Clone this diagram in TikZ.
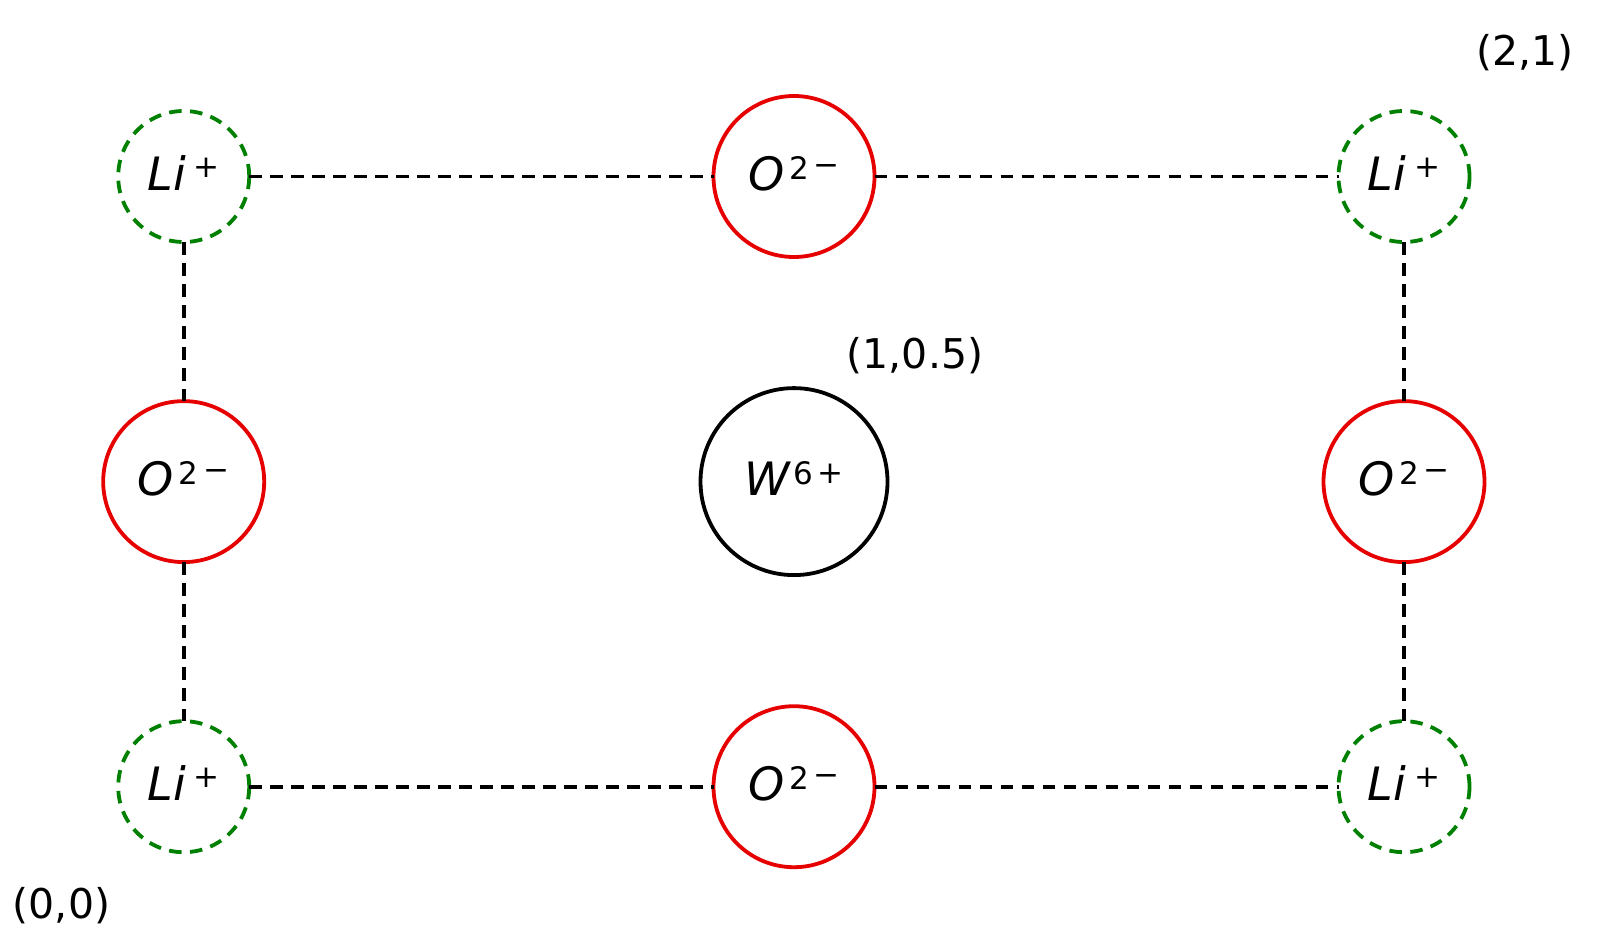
\documentclass[tikz,border=0pt]{standalone}
\usepackage{fontspec}
\setmainfont{DejaVu Sans}
\newcommand{\basefont}{\fontsize{46}{46}\selectfont\itshape}
\newcommand{\supfont}{\fontsize{31}{31}\selectfont\upshape}
\newcommand{\lblfont}{\fontsize{41}{41}\selectfont\upshape}
\newcommand{\LiIon}{{\basefont Li}\kern8pt\raisebox{13pt}{\supfont +}}
\newcommand{\OIon}{{\basefont O}\kern5pt\raisebox{11pt}{\supfont 2}\kern5pt\raisebox{15pt}{\supfont −}}
\newcommand{\WIon}{{\basefont W}\kern3pt\raisebox{11pt}{\supfont 6}\kern4pt\raisebox{12pt}{\supfont +}}
\tikzset{
  ring/.style={circle, draw, line width=3.8pt, inner sep=0pt, outer sep=0pt},
  lisite/.style={ring, draw={rgb,255:red,0;green,128;blue,0}, dash pattern=on 12.5pt off 8.5pt, minimum size=131pt},
  osite/.style={ring, draw={rgb,255:red,230;green,0;blue,0}, minimum size=161pt},
  wsite/.style={ring, draw=black, minimum size=187pt},
  bond/.style={draw=black, line width=3.8pt, dash pattern=on 12.5pt off 8.5pt},
  iontext/.style={anchor=base, inner sep=0pt},
  coordlbl/.style={anchor=center, inner sep=0pt, font=\lblfont}
}
\begin{document}
\begin{tikzpicture}[x=1pt,y=1pt]
\useasboundingbox[fill=white] (0,0) rectangle (1600,-940);
% sites
\node[lisite] (litl) at (183.7,-176.5) {};
\node[osite]  (ot)   at (794,-176.5) {};
\node[lisite] (litr) at (1404,-176.5) {};
\node[osite]  (ol)   at (183.7,-481.6) {};
\node[wsite]  (w)    at (794,-481.6) {};
\node[osite]  (or)   at (1404,-481.6) {};
\node[lisite] (libl) at (183.7,-786.7) {};
\node[osite]  (ob)   at (794,-786.7) {};
\node[lisite] (libr) at (1404,-786.7) {};
% bonds
\draw[bond] (litl) -- (ot);
\draw[bond] (ot) -- (litr);
\draw[bond] (libl) -- (ob);
\draw[bond] (ob) -- (libr);
\draw[bond] (litl) -- (ol);
\draw[bond] (ol) -- (libl);
\draw[bond] (litr) -- (or);
\draw[bond] (or) -- (libr);
% labels
\node[iontext] (tlitl) at ([yshift=-14pt]litl.center) {\LiIon};
\node[iontext] (tot)   at ([yshift=-14pt]ot.center) {\OIon};
\node[iontext] (tlitr) at ([yshift=-14pt]litr.center) {\LiIon};
\node[iontext] (tol)   at ([yshift=-14pt]ol.center) {\OIon};
\node[iontext] (tw)    at ([yshift=-14pt]w.center) {\WIon};
\node[iontext] (tor)   at ([yshift=-14pt]or.center) {\OIon};
\node[iontext] (tlibl) at ([yshift=-14pt]libl.center) {\LiIon};
\node[iontext] (tob)   at ([yshift=-14pt]ob.center) {\OIon};
\node[iontext] (tlibr) at ([yshift=-14pt]libr.center) {\LiIon};
% coordinate labels
\node[coordlbl] (c21) at (1525,-52.5) {(2,1)};
\node[coordlbl] (c105) at (915,-356) {(1,0.5)};
\node[coordlbl] (c00) at (61.5,-906) {(0,0)};
\end{tikzpicture}
\end{document}
